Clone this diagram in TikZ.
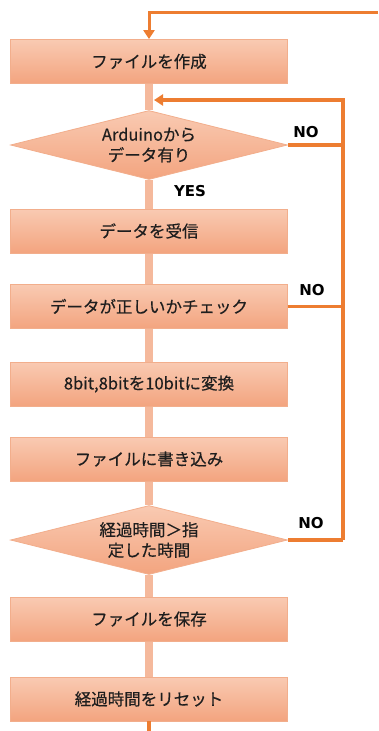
\documentclass[tikz,border=0pt]{standalone}
\usepackage{fontspec}
\newfontfamily\jp[FakeBold=0.4]{Noto Sans CJK JP}
\newfontfamily\lab{DejaVu Sans}
\usetikzlibrary{shapes.geometric,arrows.meta,backgrounds}
\definecolor{org}{HTML}{ED7D31}
\definecolor{spinec}{HTML}{F5B99C}
\definecolor{boxtop}{HTML}{F9CAB2}
\definecolor{boxbot}{HTML}{F3A47F}
\definecolor{boxline}{HTML}{F2AE8C}
\definecolor{txt}{HTML}{1E1E1E}
\tikzset{
  stepbox/.style={rectangle, draw=boxline, line width=0.8pt, top color=boxtop, bottom color=boxbot,
    minimum width=277pt, minimum height=44pt, inner sep=0pt, font=\jp\fontsize{16.5}{20}\selectfont, text=txt},
  decide/.style={diamond, aspect=4, draw=boxline, line width=0.8pt, top color=boxtop, bottom color=boxbot,
    minimum width=277pt, minimum height=69pt, inner sep=0pt, align=center, font=\jp\fontsize{16.5}{20.5}\selectfont, text=txt},
  spine/.style={spinec, line width=8pt},
  loopline/.style={org, line width=3.5pt},
  lbl/.style={font=\lab\bfseries\fontsize{15}{18}\selectfont, text=black, inner sep=0pt},
  tip/.style={-{Triangle[width=11pt,length=9pt]}}
}
\begin{document}
\begin{tikzpicture}[x=1pt,y=-1pt]
\useasboundingbox (0,0) rectangle (378,731);
\node[stepbox] (b1) at (149,61.5) {ファイルを作成};
\node[decide] (d1) at (149,145) {Arduinoから\\データ有り};
\node[stepbox] (b2) at (149,231) {データを受信};
\node[stepbox] (b3) at (149,306.5) {データが正しいかチェック};
\node[stepbox] (b4) at (149,384) {8bit,8bitを10bitに変換};
\node[stepbox] (b5) at (149,459) {ファイルに書き込み};
\node[decide] (d2) at (149,540) {経過時間＞指\\定した時間};
\node[stepbox] (b6) at (149,619) {ファイルを保存};
\node[stepbox] (b7) at (149,699) {経過時間をリセット};

\begin{scope}[on background layer]
\draw[spine] (b1.south) -- (d1.north);
\draw[spine] (d1.south) -- (b2.north);
\draw[spine] (b2.south) -- (b3.north);
\draw[spine] (b3.south) -- (b4.north);
\draw[spine] (b4.south) -- (b5.north);
\draw[spine] (b5.south) -- (d2.north);
\draw[spine] (d2.south) -- (b6.north);
\draw[spine] (b6.south) -- (b7.north);
\end{scope}

\coordinate (topin) at (378,12);
\coordinate (bottomout) at (149,731);
\coordinate (rtop) at (343,100);
\coordinate (rbot) at (343,540);
\coordinate (spinein) at (154,100);

\draw[org, line width=3pt, tip] (topin) -- (149,12) -- (b1.north);
\draw[org, line width=3.5pt] (b7.south) -- (bottomout);

\draw[loopline] (d1.east) -- (d1.east -| rtop);
\draw[loopline] (b3.east) -- (b3.east -| rtop);
\draw[loopline] (d2.east) -- (rbot);
\draw[loopline, tip] (rbot) -- (rtop) -- (spinein);

\node[lbl] (no1) at (306,132) {NO};
\node[lbl] (no2) at (312,290) {NO};
\node[lbl] (no3) at (311,523) {NO};
\node[lbl] (yes) at (190,191) {YES};
\end{tikzpicture}
\end{document}
